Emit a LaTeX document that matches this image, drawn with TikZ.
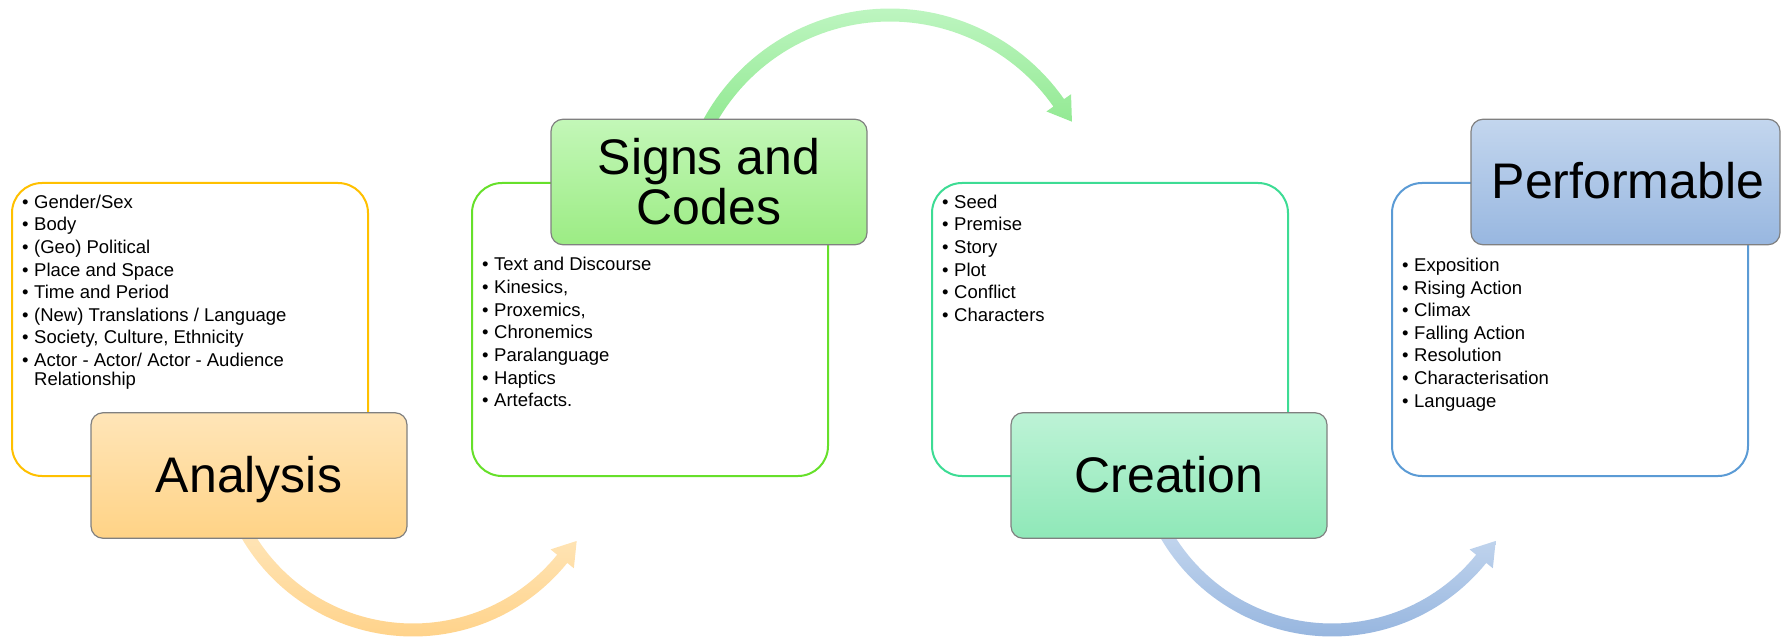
\documentclass[tikz,border=0pt]{standalone}
\usepackage{fontspec}
\setmainfont{Liberation Sans}
\usetikzlibrary{calc}
\definecolor{bgA}{HTML}{FFC000}
\definecolor{bgB}{HTML}{66E02A}
\definecolor{bgC}{HTML}{3DDC94}
\definecolor{bgD}{HTML}{5B9BD5}
\definecolor{tAt}{HTML}{FFE5B8}\definecolor{tAb}{HTML}{FFD386}
\definecolor{tBt}{HTML}{C3F7B8}\definecolor{tBb}{HTML}{9CEC84}
\definecolor{tCt}{HTML}{BDF3D6}\definecolor{tCb}{HTML}{8FE8B8}
\definecolor{tDt}{HTML}{C3D6EE}\definecolor{tDb}{HTML}{98B7E0}
\definecolor{aAt}{HTML}{FFE6BA}\definecolor{aAb}{HTML}{FFD38B}
\definecolor{aBt}{HTML}{BDF5C0}\definecolor{aBb}{HTML}{8EE88E}
\definecolor{aCt}{HTML}{C6D8EF}\definecolor{aCb}{HTML}{97B6DF}
\newcommand\itm{\makebox[12pt][l]{•}}
\tikzset{
  bgbox/.style={line width=2pt, rounded corners=30pt, fill=white, minimum width=356pt, minimum height=293pt, inner sep=0pt},
  titlebox/.style={draw=black!50, line width=1.2pt, rounded corners=12pt, inner sep=0pt, minimum height=125.5pt, font=\fontsize{50}{50}\selectfont, align=center},
  onetext/.style={text height=33pt, text depth=0pt},
  listtext/.style={anchor=base west, inner sep=0pt, font=\fontsize{18.5}{19}\selectfont},
}
\begin{document}
\begin{tikzpicture}[x=1pt, y=-1pt]
\useasboundingbox (0,0) rectangle (1781,639);
\clip (0,0) rectangle (1781,639);
% arrows
\shade[top color=aAt, bottom color=aAb]
  plot[domain=152:39, samples=60, variable=\t] ({413+198.5*cos(\t)},{438+198.5*sin(\t)})
  -- ({413+207*cos(39)},{438+207*sin(39)})
  -- ({413+192*cos(39)+23*sin(39)},{438+192*sin(39)-23*cos(39)})
  -- ({413+177*cos(39)},{438+177*sin(39)})
  -- plot[domain=39:152, samples=60, variable=\t] ({413+185.5*cos(\t)},{438+185.5*sin(\t)})
  -- cycle;
\shade[top color=aCt, bottom color=aCb]
  plot[domain=152:39, samples=60, variable=\t] ({1332+198.5*cos(\t)},{438+198.5*sin(\t)})
  -- ({1332+207*cos(39)},{438+207*sin(39)})
  -- ({1332+192*cos(39)+23*sin(39)},{438+192*sin(39)-23*cos(39)})
  -- ({1332+177*cos(39)},{438+177*sin(39)})
  -- plot[domain=39:152, samples=60, variable=\t] ({1332+185.5*cos(\t)},{438+185.5*sin(\t)})
  -- cycle;
\shade[top color=aBt, bottom color=aBb]
  plot[domain=-155:-35, samples=60, variable=\t] ({890+212.5*cos(\t)},{221+212.5*sin(\t)})
  -- ({890+221*cos(-35)},{221+221*sin(-35)})
  -- ({890+206*cos(-35)-23*sin(-35)},{221+206*sin(-35)+23*cos(-35)})
  -- ({890+191*cos(-35)},{221+191*sin(-35)})
  -- plot[domain=-35:-155, samples=60, variable=\t] ({890+199.5*cos(\t)},{221+199.5*sin(\t)})
  -- cycle;
% background boxes
\node[bgbox, draw=bgA] (bA) at (190,329.5) {};
\node[bgbox, draw=bgB] (bB) at (650,329.5) {};
\node[bgbox, draw=bgC] (bC) at (1110,329.5) {};
\node[bgbox, draw=bgD] (bD) at (1570,329.5) {};
% title boxes
\node[titlebox, onetext, top color=tAt, bottom color=tAb, minimum width=316pt] (tA) at (249,475.5) {Analysis};
\node[titlebox, top color=tBt, bottom color=tBb, minimum width=316pt] (tB) at (709,182) {Signs and\\Codes};
\node[titlebox, onetext, top color=tCt, bottom color=tCb, minimum width=316pt] (tC) at (1169,475.5) {Creation};
\node[titlebox, onetext, top color=tDt, bottom color=tDb, minimum width=309pt] (tD) at (1625.5,182) {\hspace{5pt}Performable};
% lists
\node[listtext] (lA) at (22,208.3) {\begin{tabular}[t]{@{}l@{}}
\itm Gender/Sex\\[3.5pt]
\itm Body\\[3.5pt]
\itm (Geo) Political\\[3.5pt]
\itm Place and Space\\[3.5pt]
\itm Time and Period\\[3.5pt]
\itm (New) Translations / Language\\[3.5pt]
\itm Society, Culture, Ethnicity\\[3.5pt]
\itm Actor - Actor/ Actor - Audience\\
\hspace{12pt}Relationship
\end{tabular}};
\node[listtext] (lB) at (482,271) {\begin{tabular}[t]{@{}l@{}}
\itm Text and Discourse\\[3.5pt]
\itm Kinesics,\\[3.5pt]
\itm Proxemics,\\[3.5pt]
\itm Chronemics\\[3.5pt]
\itm Paralanguage\\[3.5pt]
\itm Haptics\\[3.5pt]
\itm Artefacts.
\end{tabular}};
\node[listtext] (lC) at (942,208.3) {\begin{tabular}[t]{@{}l@{}}
\itm Seed\\[3.5pt]
\itm Premise\\[3.5pt]
\itm Story\\[3.5pt]
\itm Plot\\[3.5pt]
\itm Conflict\\[3.5pt]
\itm Characters
\end{tabular}};
\node[listtext] (lD) at (1402,271.5) {\begin{tabular}[t]{@{}l@{}}
\itm Exposition\\[3.5pt]
\itm Rising Action\\[3.5pt]
\itm Climax\\[3.5pt]
\itm Falling Action\\[3.5pt]
\itm Resolution\\[3.5pt]
\itm Characterisation\\[3.5pt]
\itm Language
\end{tabular}};
\end{tikzpicture}
\end{document}
